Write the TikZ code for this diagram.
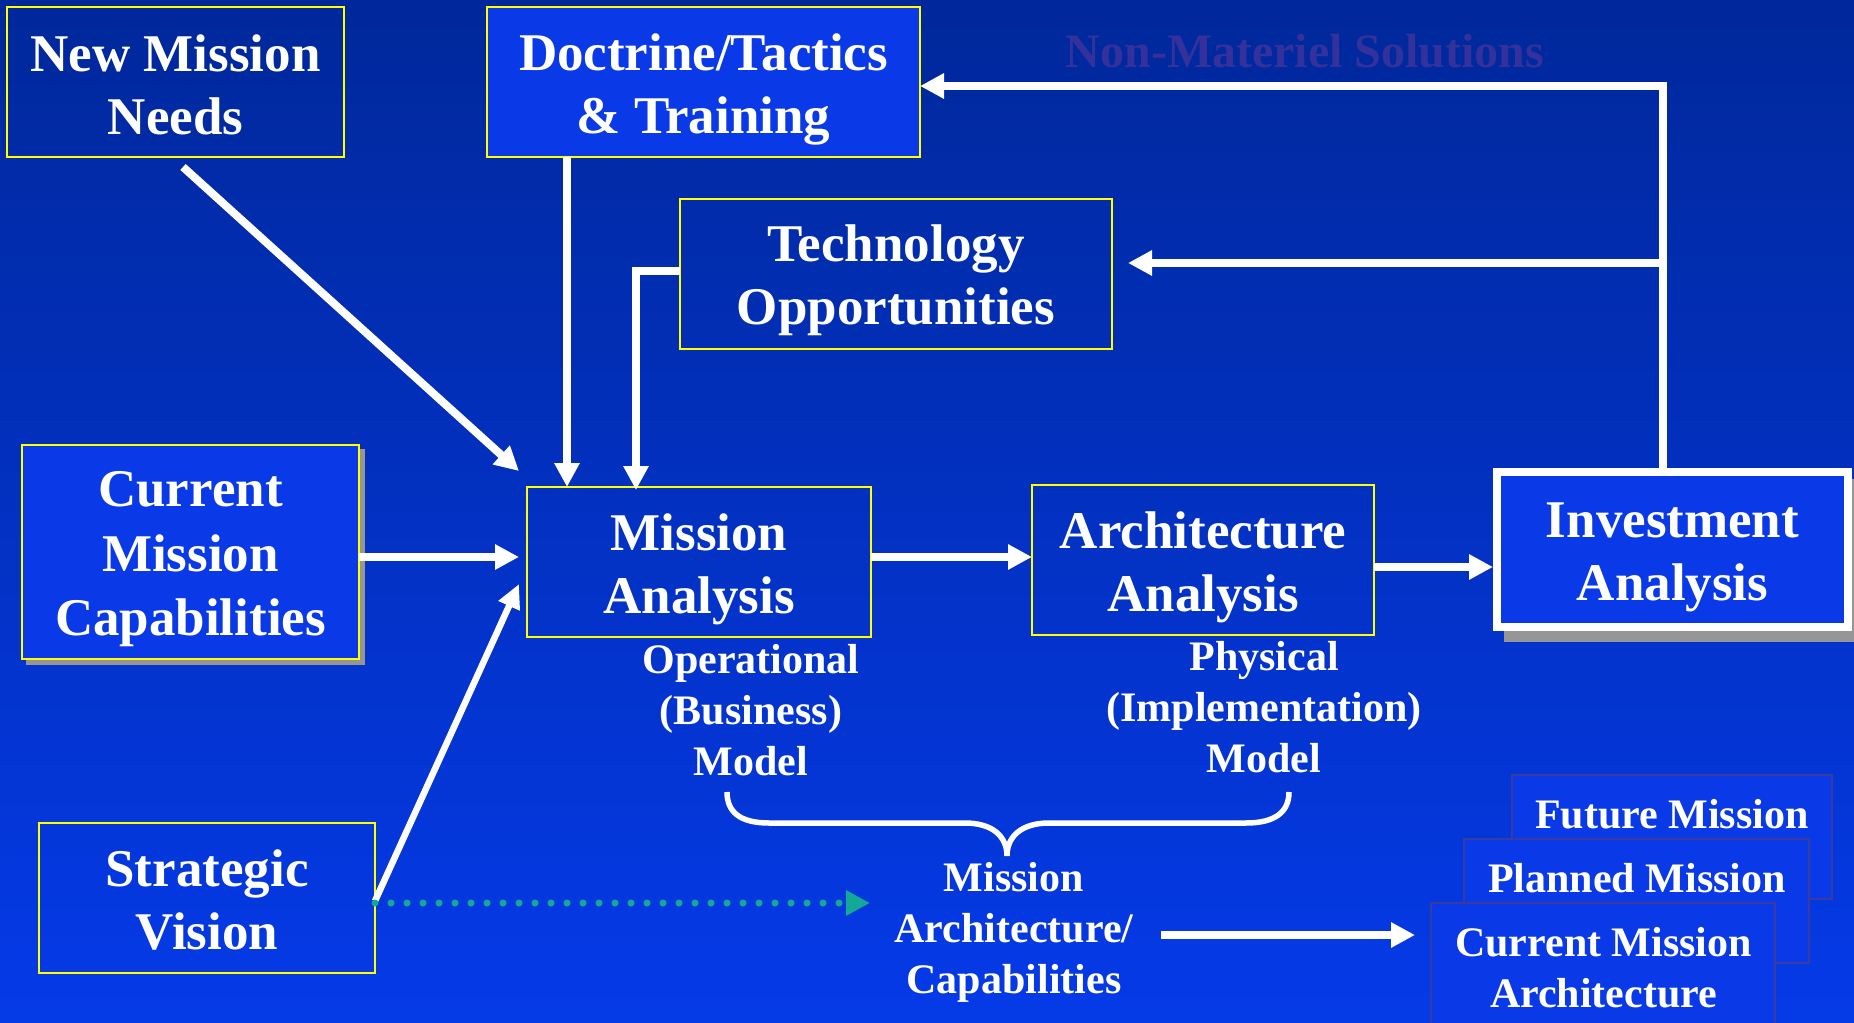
\documentclass[tikz,border=0pt]{standalone}
\usepackage{fontspec}
\setmainfont{Liberation Serif}
\usetikzlibrary{arrows.meta,calc,shadows}
\definecolor{bgtop}{RGB}{0,40,155}
\definecolor{bgbot}{RGB}{5,58,232}
\definecolor{brightfill}{RGB}{10,58,232}
\definecolor{boxyellow}{RGB}{255,255,0}
\definecolor{nmsol}{RGB}{52,48,156}
\definecolor{dotteal}{RGB}{20,168,150}
\definecolor{stackborder}{RGB}{58,58,160}
\definecolor{shadowgray}{RGB}{150,150,150}
\tikzset{
  bigtext/.style={font=\bfseries\fontsize{53}{63}\selectfont, text=white, align=center, inner sep=0pt},
  smalltext/.style={font=\bfseries\fontsize{42}{51}\selectfont, text=white, align=center},
  ybox/.style={draw=boxyellow, line width=2.5pt, inner sep=0pt, outer sep=0pt},
  stackbox/.style={draw=stackborder, line width=2pt, fill=brightfill, inner sep=0pt, outer sep=0pt},
  arr/.style={draw=white, line width=8pt, line join=miter, -{Triangle[length=24pt,width=24pt]}},
  thinarr/.style={draw=white, line width=6.5pt, -{Triangle[length=24pt,width=22pt]}},
  dotarr/.style={draw=dotteal, line width=7pt, line cap=round, dash pattern=on 0pt off 16pt,
    -{Triangle[length=24pt,width=24pt,fill=dotteal]}},
  bracestyle/.style={draw=white, line width=5.5pt},
}
\begin{document}
\begin{tikzpicture}[x=1pt,y=-1pt]
\useasboundingbox (0,0) rectangle (1854,1022);
\begin{scope}
\clip (0,0) rectangle (1854,1022);
\shade[top color=bgtop, bottom color=bgbot] (0,0) rectangle (1854,1022);

% title
\node[font=\bfseries\fontsize{48}{56}\selectfont, text=nmsol, inner sep=0pt] (nms) at (1305,51) {Non-Materiel Solutions};

% boxes
\node[ybox, minimum width=337pt, minimum height=150pt] (nmn) at (175.5,82) {};
\node[bigtext] (nmnt) at ($(nmn)+(0,2.5)$) {New Mission\\Needs};
\node[ybox, fill=brightfill, minimum width=433pt, minimum height=150pt] (doc) at (703.5,82) {};
\node[bigtext] (doct) at ($(doc)+(0,7)$) {Doctrine/Tactics\\\& Training};
\node[ybox, minimum width=432pt, minimum height=150pt] (tech) at (896,274) {};
\node[bigtext] (techt) at ($(tech)+(0,6.5)$) {Technology\\Opportunities};
\node[ybox, fill=brightfill, minimum width=337pt, minimum height=214pt,
  general shadow={fill=shadowgray, draw=shadowgray, line width=2.5pt, shadow xshift=5pt, shadow yshift=-5pt}]
  (cmc) at (190.5,552) {};
\node[bigtext, font=\bfseries\fontsize{53}{64.5}\selectfont] (cmct) at ($(cmc)+(0,7.5)$) {Current\\Mission\\Capabilities};
\node[ybox, minimum width=344pt, minimum height=150pt] (ma) at (699,562) {};
\node[bigtext] (mat) at ($(ma)+(0,7.5)$) {Mission\\Analysis};
\node[ybox, minimum width=342pt, minimum height=150pt] (aa) at (1203,560) {};
\node[bigtext] (aat) at ($(aa)+(0,7.5)$) {Architecture\\Analysis};
\node[draw=white, line width=8pt, fill=brightfill, inner sep=0pt, outer sep=4pt,
  minimum width=351pt, minimum height=155pt,
  general shadow={fill=shadowgray, draw=shadowgray, line width=8pt, shadow xshift=11pt, shadow yshift=-11pt}]
  (inv) at (1672.5,549.5) {};
\node[bigtext] (invt) at ($(inv)+(0,7.5)$) {Investment\\Analysis};
\node[ybox, minimum width=336pt, minimum height=150pt] (sv) at (207,898) {};
\node[bigtext] (svt) at ($(sv)+(0,2.5)$) {Strategic\\Vision};

% model labels
\node[smalltext] (opm) at (751,710) {Operational\\(Business)\\Model};
\node[smalltext] (phm) at (1264,707.5) {Physical\\(Implementation)\\Model};
\node[smalltext] (mac) at (1014,932) {Mission\\Architecture/\\Capabilities};

% stacked architecture boxes
\node[stackbox, minimum width=320pt, minimum height=124pt] (fut) at (1672,837) {};
\node[smalltext] (futt) at (1672,814) {Future Mission};
\node[stackbox, minimum width=345pt, minimum height=124pt] (plan) at (1636.5,901) {};
\node[smalltext] (plant) at (1637,878) {Planned Mission};
\node[stackbox, minimum width=344pt, minimum height=127pt] (cur) at (1603,966.5) {};
\node[smalltext] (curt) at (1603.5,968) {Current Mission\\Architecture};

% connectors
\draw[arr] ($(nmn.south)+(7.5,10)$) -- ($(ma.north west)+(-8,-16)$);
\draw[arr] ($(doc.south west)+(80,0)$) -- ($(ma.north west)+(40,0)$);
\draw[arr] ($(tech.west)+(0,-3)$) -| ($(ma.north west)+(109,3)$);
\draw[arr] ($(cmc.east)+(0,5)$) -- ($(ma.west)+(-8,-5)$);
\draw[thinarr] ($(sv.east)+(0,3)$) -- ($(ma.south west)+(-8,-53)$);
\coordinate (dotend) at (870,903);
\draw[dotarr] ($(sv.east)+(0,5)$) -- (dotend);
\draw[arr] ($(ma.east)+(0,-5)$) -- ($(aa.west)+(0,-3)$);
\draw[arr] ($(aa.east)+(0,7)$) -- ($(aa.east -| inv.west)+(0,7)$);
\draw[arr] ($(inv.north)+(-9.5,0)$) |- ($(doc.east)+(0,4)$);
\coordinate (junc) at (1663,263);
\draw[arr] (junc) -- ($(tech.east |- junc)+(16,0)$);
\coordinate (macout) at (1161,935);
\draw[arr] (macout) -- ($(macout -| cur.west)+(-16,0)$);

% brace
\draw[bracestyle] (727,792) .. controls (727,812) and (740,823) .. (769,823) -- (965,823)
  .. controls (992,823) and (1007,836) .. (1007,856)
  .. controls (1007,836) and (1022,823) .. (1049,823) -- (1246,823)
  .. controls (1275,823) and (1289,812) .. (1289,792);
\end{scope}
\end{tikzpicture}
\end{document}
